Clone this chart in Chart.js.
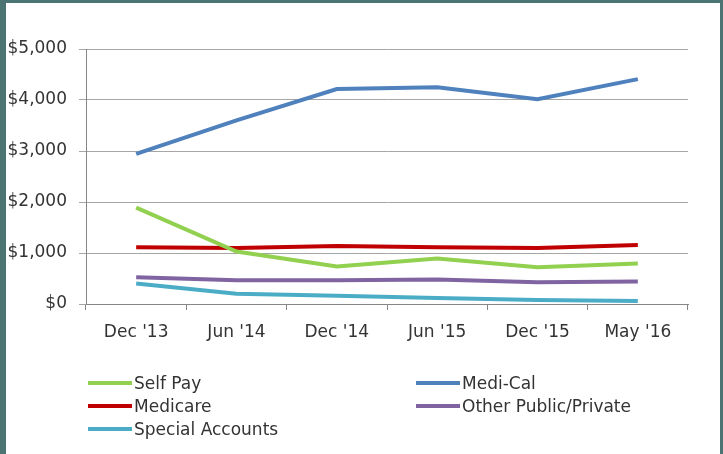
<!DOCTYPE html>
<html>
<head>
<meta charset="utf-8">
<script src="https://cdn.jsdelivr.net/npm/chart.js@4.4.1/dist/chart.umd.min.js"></script>
<style>
  html, body { margin: 0; padding: 0; }
  body { width: 723px; height: 454px; background: #4b7473; position: relative; overflow: hidden; }
  #frame { position: absolute; left: 6px; top: 3px; width: 714px; height: 451px; background: #ffffff; }
  #chart { position: absolute; left: 0; top: 0; }
  #legend { position: absolute; left: 0; top: 0; width: 714px; height: 451px; pointer-events: none;
            font-family: "DejaVu Sans", sans-serif; font-size: 17px; color: #333333; }
  .item { position: absolute; height: 22px; display: flex; align-items: center; white-space: nowrap; }
  .swatch { width: 44px; height: 4px; margin-right: 2px; }
</style>
</head>
<body>
<div id="frame">
  <canvas id="chart" width="714" height="451"></canvas>
  <div id="legend"></div>
</div>
<script>
// ── datos ──
const periodos      = ["Dec '13", "Jun '14", "Dec '14", "Jun '15", "Dec '15", "May '16"];
const selfPay       = [1890, 1030, 735, 890, 720, 795];
const mediCal       = [2945, 3600, 4215, 4250, 4015, 4410];
const medicare      = [1115, 1100, 1135, 1115, 1100, 1155];
const otroPubPriv   = [525, 465, 465, 480, 425, 440];
const cuentasEsp    = [400, 200, 160, 120, 80, 60];
const ticksY        = [0, 1000, 2000, 3000, 4000, 5000];

const series = [
    { label: 'Self Pay',             data: selfPay,     color: '#92d050' },
    { label: 'Medi-Cal',             data: mediCal,     color: '#4f81bd' },
    { label: 'Medicare',             data: medicare,    color: '#c00000' },
    { label: 'Other Public/Private', data: otroPubPriv, color: '#8064a2' },
    { label: 'Special Accounts',     data: cuentasEsp,  color: '#4bacc6' },
];

const fuente = { family: 'DejaVu Sans', size: 17 };

const chart = new Chart(document.getElementById('chart'), {
    type: 'line',
    data: {
        labels: periodos,
        datasets: series.map(s => ({
            label: s.label,
            data: s.data,
            borderColor: s.color,
            backgroundColor: s.color,
            borderWidth: 4,
            pointRadius: 0,
            tension: 0,
            fill: false,
        }))
    },
    options: {
        responsive: false,
        animation: false,
        devicePixelRatio: 1,
        layout: { padding: { left: 0, right: 32, top: 46, bottom: 100 } },
        plugins: { legend: { display: false }, tooltip: { enabled: false } },
        scales: {
            x: {
                offset: true,
                grid: { offset: true, drawOnChartArea: false, drawTicks: true, tickLength: 6, color: '#868686' },
                border: { display: true, color: '#868686' },
                ticks: { font: fuente, color: '#333333', padding: 12, maxRotation: 0 },
                afterFit: scale => { scale.height = 50; }
            },
            y: {
                min: ticksY[0],
                max: ticksY[ticksY.length - 1],
                afterBuildTicks: scale => { scale.ticks = ticksY.map(v => ({ value: v })); },
                grid: { color: '#a6a6a6', tickLength: 7, drawTicks: true },
                border: { display: true, color: '#868686' },
                ticks: {
                    font: fuente, color: '#333333', padding: 12,
                    callback: v => '$' + v.toLocaleString('en-US')
                },
                afterFit: scale => { scale.width = 80; }
            }
        }
    }
});

// Leyenda en dos columnas, como en el original
const legend = document.getElementById('legend');
const columnas = [82, 410];
const filas = [369, 392, 415];
series.forEach((s, i) => {
    const el = document.createElement('div');
    el.className = 'item';
    el.style.left = columnas[i % 2] + 'px';
    el.style.top = filas[Math.floor(i / 2)] + 'px';
    el.innerHTML = `<span class="swatch" style="background:${s.color}"></span><span>${s.label}</span>`;
    legend.appendChild(el);
});
</script>
</body>
</html>
